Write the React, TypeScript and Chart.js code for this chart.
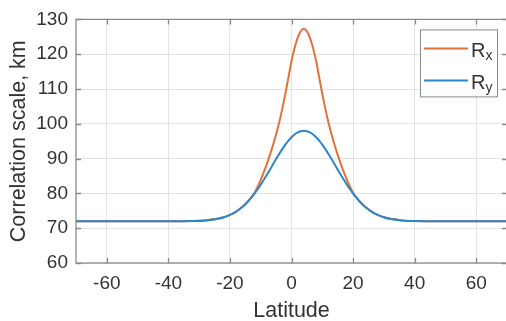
import React, { useEffect, useRef } from "react";
import { Chart, registerables } from "chart.js";

Chart.register(...registerables);

// Latitude (degrees)
const latitude = [
  -70, -65, -60, -55, -50, -45, -40, -36, -32, -28, -24, -22, -20, -18, -16, -15, -14, -13, -12, -11,
  -10, -9, -8, -7, -6, -5, -4, -3, -2, -1, 0, 1, 2, 3, 4, 5, 6, 7, 8, 9,
  10, 11, 12, 13, 14, 15, 16, 17, 18, 19, 20, 21, 22, 23, 24, 26, 28, 30, 32, 36,
  40, 44, 48, 50, 55, 60, 65, 70,
];

// Rx correlation scale (km)
const rxValues = [
  72.0, 72.0, 72.0, 72.0, 72.0, 72.0, 72.0, 72.01, 72.06, 72.23, 72.69, 73.14, 73.81, 74.77, 76.09, 76.89, 77.81, 78.95, 80.2, 81.9,
  83.9, 86.1, 88.5, 91.1, 93.9, 97.0, 100.4, 104.3, 108.6, 113.3, 118.0, 121.8, 124.7, 126.6, 127.3, 126.6, 124.7, 121.8, 118.0, 113.3,
  108.6, 104.3, 100.4, 97.0, 93.9, 91.1, 88.5, 86.1, 83.9, 81.9, 80.2, 78.95, 77.81, 76.89, 76.09, 74.77, 73.81, 73.14, 72.69, 72.23,
  72.06, 72.01, 72.0, 72.0, 72.0, 72.0, 72.0, 72.0,
];

// Ry correlation scale (km)
const ryValues = [
  72.0, 72.0, 72.0, 72.0, 72.0, 72.0, 72.0, 72.01, 72.06, 72.23, 72.69, 73.14, 73.81, 74.77, 76.09, 76.89, 77.81, 78.83, 79.95, 81.18,
  82.5, 83.9, 85.35, 86.85, 88.37, 89.87, 91.33, 92.72, 94.01, 95.16, 96.15, 96.94, 97.52, 97.88, 98.0, 97.88, 97.52, 96.94, 96.15, 95.16,
  94.01, 92.72, 91.33, 89.87, 88.37, 86.85, 85.35, 83.9, 82.5, 81.18, 79.95, 78.83, 77.81, 76.89, 76.09, 74.77, 73.81, 73.14, 72.69, 72.23,
  72.06, 72.01, 72.0, 72.0, 72.0, 72.0, 72.0, 72.0,
];

const xTickValues = [-60, -40, -20, 0, 20, 40, 60];
const yTickValues = [60, 70, 80, 90, 100, 110, 120, 130];

const seriesBase = ["R", "R"];
const seriesSub = ["x", "y"];
const seriesColors = ["#E2703A", "#2B86CC"];

const FONT = "'Liberation Sans', Arial, Helvetica, sans-serif";
const TEXT = "#333333";
const BOX = "#8a8a8a";

const boxPlugin = {
  id: "matlabBox",
  afterDraw(chart: any) {
    const { ctx, chartArea: a, scales } = chart;
    const xs = scales.x;
    const ys = scales.y;
    ctx.save();
    ctx.strokeStyle = BOX;
    ctx.lineWidth = 1.3;
    ctx.strokeRect(a.left, a.top, a.right - a.left, a.bottom - a.top);
    const tl = 5;
    ctx.beginPath();
    for (const v of xTickValues) {
      const px = Math.round(xs.getPixelForValue(v)) + 0.5;
      ctx.moveTo(px, a.bottom);
      ctx.lineTo(px, a.bottom - tl);
      ctx.moveTo(px, a.top);
      ctx.lineTo(px, a.top + tl);
    }
    for (const v of yTickValues) {
      const py = Math.round(ys.getPixelForValue(v)) + 0.5;
      ctx.moveTo(a.left, py);
      ctx.lineTo(a.left + tl, py);
      ctx.moveTo(a.right, py);
      ctx.lineTo(a.right - tl, py);
    }
    ctx.stroke();

    // Legend
    const bw = 77;
    const bh = 67;
    const bx = a.right - 10 - bw;
    const by = a.top + 10;
    ctx.fillStyle = "#ffffff";
    ctx.fillRect(bx, by, bw, bh);
    ctx.strokeStyle = BOX;
    ctx.lineWidth = 1;
    ctx.strokeRect(bx + 0.5, by + 0.5, bw, bh);
    const rowY = [by + 19, by + 51];
    for (let i = 0; i < 2; i++) {
      ctx.strokeStyle = seriesColors[i];
      ctx.lineWidth = 2;
      ctx.beginPath();
      ctx.moveTo(bx + 4, rowY[i]);
      ctx.lineTo(bx + 48, rowY[i]);
      ctx.stroke();
      ctx.fillStyle = TEXT;
      ctx.textBaseline = "alphabetic";
      ctx.textAlign = "left";
      ctx.font = `20px ${FONT}`;
      ctx.fillText(seriesBase[i], bx + 51, rowY[i] + 9);
      const w = ctx.measureText(seriesBase[i]).width;
      ctx.font = `14px ${FONT}`;
      ctx.fillText(seriesSub[i], bx + 51 + w, rowY[i] + 12);
    }
    ctx.restore();
  },
};

export default function App() {
  const ref = useRef<HTMLCanvasElement | null>(null);
  useEffect(() => {
    if (!ref.current) return;
    const chart = new Chart(ref.current, {
      type: "line",
      data: {
        datasets: [
          {
            label: "Rx",
            data: latitude.map((x, i) => ({ x, y: rxValues[i] })),
            borderColor: seriesColors[0],
            borderWidth: 2,
            pointRadius: 0,
            cubicInterpolationMode: "monotone",
            order: 1,
          },
          {
            label: "Ry",
            data: latitude.map((x, i) => ({ x, y: ryValues[i] })),
            borderColor: seriesColors[1],
            borderWidth: 2,
            pointRadius: 0,
            cubicInterpolationMode: "monotone",
            order: 0,
          },
        ],
      },
      options: {
        responsive: false,
        animation: false,
        devicePixelRatio: 1,
        layout: { padding: { left: 0, top: 19, right: 3, bottom: 0 } },
        plugins: { legend: { display: false }, tooltip: { enabled: false } },
        scales: {
          x: {
            type: "linear",
            min: -70,
            max: 70,
            afterBuildTicks: (s: any) => {
              s.ticks = xTickValues.map((value) => ({ value }));
            },
            afterFit: (s: any) => {
              s.height = 58;
            },
            grid: { color: "#e3e3e3", lineWidth: 1, drawTicks: false },
            border: { display: false },
            ticks: {
              padding: 9,
              color: TEXT,
              font: { family: FONT, size: 19 },
              maxRotation: 0,
            },
            title: {
              display: true,
              text: "Latitude",
              color: TEXT,
              font: { family: FONT, size: 21.5, lineHeight: 0.9 },
              padding: { top: 0, bottom: 0 },
            },
          },
          y: {
            type: "linear",
            min: 60,
            max: 130,
            afterBuildTicks: (s: any) => {
              s.ticks = yTickValues.map((value) => ({ value }));
            },
            afterFit: (s: any) => {
              s.width = 76;
            },
            grid: { color: "#e3e3e3", lineWidth: 1, drawTicks: false },
            border: { display: false },
            ticks: {
              padding: 8,
              color: TEXT,
              font: { family: FONT, size: 19 },
            },
            title: {
              display: true,
              text: "Correlation scale, km",
              color: TEXT,
              font: { family: FONT, size: 21.5, lineHeight: 1.2 },
              padding: { top: 6, bottom: 0 },
            },
          },
        },
      },
      plugins: [boxPlugin],
    });
    return () => chart.destroy();
  }, []);

  return (
    <div
      style={{
        position: "fixed",
        left: 0,
        top: 0,
        width: 506,
        height: 321,
        overflow: "hidden",
        background: "#ffffff",
      }}
    >
      <canvas ref={ref} width={510} height={321} style={{ display: "block" }} />
    </div>
  );
}
